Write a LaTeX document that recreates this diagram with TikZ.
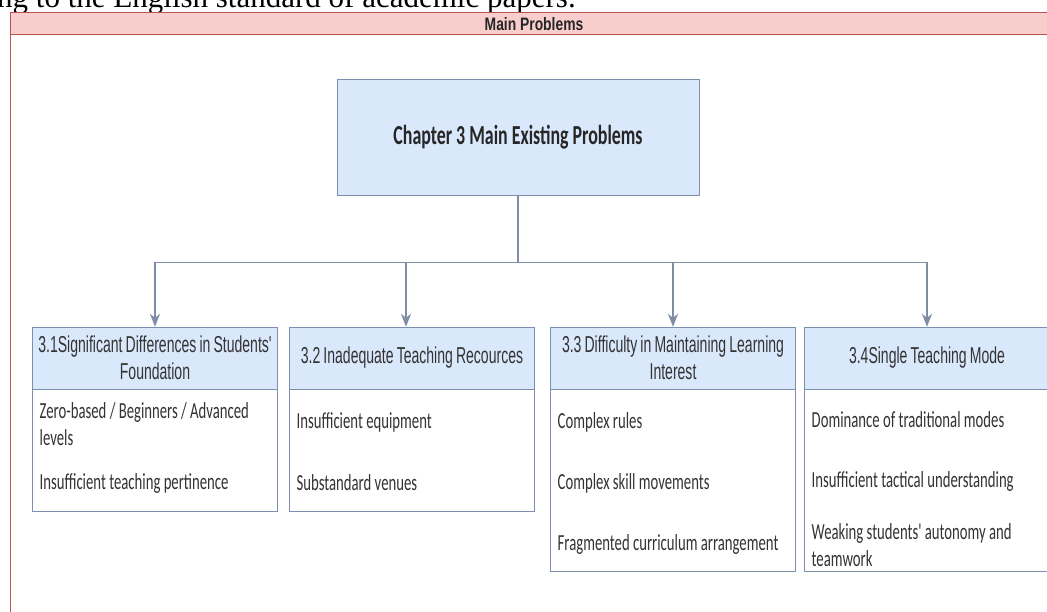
\documentclass[tikz,border=0pt]{standalone}
\usepackage{fontspec}
\setmainfont{Liberation Sans}
\newfontfamily\headfont[FakeStretch=0.61, WordSpace=0.8]{Liberation Sans}
\newfontfamily\itemfont[FakeStretch=0.64]{Carlito}
\newfontfamily\chapfont[FakeStretch=0.65]{Carlito}
\newfontfamily\lanefont[FakeStretch=0.77]{Liberation Sans}
\newfontfamily\paperfont{Liberation Serif}
\usetikzlibrary{arrows.meta,positioning}
\hyphenpenalty=10000
\exhyphenpenalty=10000

\definecolor{pinkfill}{HTML}{F8CECC}
\definecolor{pinkline}{HTML}{B85450}
\definecolor{bluefill}{HTML}{DAE8FC}
\definecolor{blueline}{HTML}{7C8FAE}
\definecolor{linkgray}{HTML}{7F8EA6}
\definecolor{txtgray}{HTML}{333333}

\begin{document}
\begin{tikzpicture}[x=1pt, y=-1pt, >={Stealth[length=13pt,width=10pt,inset=4pt]},
	head/.style={draw=blueline, fill=bluefill, minimum width=245pt, minimum height=62pt,
		text width=243pt, align=flush center, inner sep=0pt, text=txtgray,
		font=\headfont\fontsize{23}{27}\selectfont},
	body/.style={draw=blueline, fill=white, minimum width=245pt, inner sep=0pt},
	itm/.style={anchor=west, text width=232pt, align=flush left, inner sep=0pt, text=txtgray,
		font=\itemfont\fontsize{23}{27}\selectfont},
	link/.style={draw=linkgray, line width=1.3pt}]
	\useasboundingbox (0,0) rectangle (1047,612);
	\clip (0,0) rectangle (1047,612);

	% text of the page above the figure
	\node[anchor=base west, inner sep=0pt, font=\paperfont\fontsize{31}{31}\selectfont] (cut) at (-3,8) {ng to the English standard of academic papers.};

	% lane
	\draw[pinkline, line width=1pt] (10,13) rectangle (1070,640);
	\draw[pinkline, fill=pinkfill, line width=1pt] (10,13) rectangle (1070,35);
	\node[font=\lanefont\bfseries\fontsize{18}{18}\selectfont, text=black!85] (lane) at (534,24) {Main Problems};

	\node[draw=blueline, fill=bluefill, minimum width=362pt, minimum height=116pt, text=black!85,
		font=\chapfont\bfseries\fontsize{27.5}{30}\selectfont] (chap) at (518,137) {Chapter 3 Main Existing Problems};

	\foreach \i/\x/\h/\t in {1/155/122/{3.1Significant Differences in Students' Foundation},
		2/412/122/{3.2 Inadequate Teaching Recources},
		3/673/182/{3.3 Difficulty in Maintaining Learning Interest},
		4/927/182/{3.4Single Teaching Mode}} {
		\node[head] (h\i) at (\x,358) {\t};
		\node[body, minimum height=\h pt, below=0pt of h\i] (b\i) {};
	}
	\foreach \i/\d in {1/0, 2/-6, 3/0, 4/0} {
		\draw[link, ->] (chap.south) -- ++(0,67) -| ([xshift=\d pt]h\i.north);
	}

	\node[itm] (t11) at (39.5,424) {Zero-based / Beginners / Advanced levels};
	\node[itm] (t12) at (39.5,483) {Insufficient teaching pertinence};
	\node[itm] (t21) at (296.5,422) {Insufficient equipment};
	\node[itm] (t22) at (296.5,483) {Substandard venues};
	\node[itm] (t31) at (557.5,422) {Complex rules};
	\node[itm] (t32) at (557.5,483) {Complex skill movements};
	\node[itm] (t33) at (557.5,544) {Fragmented curriculum arrangement};
	\node[itm] (t41) at (811.5,420) {Dominance of traditional modes};
	\node[itm] (t42) at (811.5,481) {Insufficient tactical understanding};
	\node[itm] (t43) at (811.5,545) {Weaking students' autonomy and teamwork};
\end{tikzpicture}
\end{document}
